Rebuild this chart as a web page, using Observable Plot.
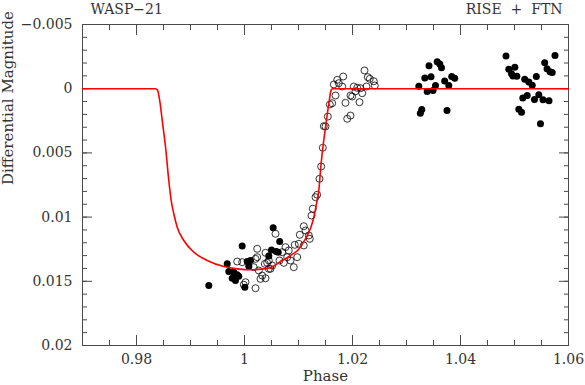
<!DOCTYPE html>
<html>
<head>
<meta charset="utf-8">
<script src="https://cdn.jsdelivr.net/npm/d3@7"></script>
<script src="https://cdn.jsdelivr.net/npm/@observablehq/plot@0.6"></script>
<style>
  html, body { margin: 0; padding: 0; background: #fff; }
</style>
</head>
<body>
<div id="chart"></div>
<script>
// ---- Data ----
const titleLeft = ["WASP\u221221"];
const titleRight = ["RISE\u00a0\u00a0+\u00a0\u00a0FTN"];
const xLabel = ["Phase"];
const yLabel = ["Differential Magnitude"];

// Filled circles (FTN)
const ftnPhase = [1.03228,1.03339,1.03417,1.03454,1.03383,1.03491,1.03537,1.03569,1.03648,1.03617,1.03707,1.03783,1.03837,1.03893,1.03283,1.03256,1.03750,
  1.04843,1.04894,1.04944,1.05006,1.04972,1.05043,1.05189,1.05265,1.05328,1.05404,1.05154,1.05235,1.05080,1.05130,1.05370,1.05450,1.05528,1.05639,1.05481,1.05559,1.05602,1.05657,1.05698,1.05750,
  0.99339,0.99957,0.99680,0.99709,0.99802,0.99865,0.99772,0.99833,0.99894,1.00050,1.00080,1.00006,1.00111,1.00531,1.00652,1.00500,1.00587,1.00450,1.00624];
const ftnMag = [-0.00020,-0.00083,-0.00179,-0.00093,0.00022,0.00014,-0.00025,-0.00210,-0.00163,-0.00192,-0.00060,-0.00025,-0.00095,-0.00082,0.00162,0.00191,0.00170,
  -0.00255,-0.00152,-0.00116,-0.00167,-0.00099,-0.00097,-0.00073,-0.00052,-0.00027,-0.00095,0.00072,0.00053,0.00160,0.00183,0.00084,0.00048,0.00086,0.00094,0.00273,-0.00202,-0.00155,-0.00132,-0.00126,-0.00259,
  0.01533,0.01225,0.01364,0.01424,0.01429,0.01449,0.01476,0.01494,0.01460,0.01346,0.01382,0.01546,0.01338,0.01083,0.01190,0.01256,0.01268,0.01303,0.01273];

// Open circles (RISE)
const risePhase = [1.00235,1.00389,0.99865,0.99957,1.00204,1.00172,1.00265,1.00328,1.00296,1.00389,1.00019,0.99987,1.00204,1.00420,1.00481,
  1.01346,1.01315,1.01265,1.01241,1.01098,1.01130,1.01024,1.01191,1.01209,1.01006,1.01098,1.00931,1.00759,1.00820,1.00698,1.00791,1.00852,1.00976,1.00913,
  1.00235,1.00376,1.00513,1.00648,1.00450,1.00728,1.00574,1.00450,
  1.02222,1.02283,1.02320,1.02394,1.02413,1.02259,1.02148,1.02087,1.02024,1.02056,1.02180,1.02130,1.01963,1.01994,1.01870,1.01963,1.01902,1.01828,1.01717,1.01746,1.01654,1.01809,1.01685,1.01624,1.01580,1.01543,1.01500,1.01469,1.01450,1.01420,1.01389];
const riseMag = [0.01247,0.01278,0.01346,0.01351,0.01325,0.01390,0.01416,0.01455,0.01481,0.01476,0.01507,0.01527,0.01554,0.01356,0.01403,
  0.00826,0.00845,0.00935,0.00988,0.01071,0.01104,0.01138,0.01143,0.01169,0.01208,0.01221,0.01216,0.01234,0.01260,0.01273,0.01312,0.01338,0.01312,0.01390,
  0.01312,0.01364,0.01377,0.01338,0.01338,0.01356,0.01130,0.01403,
  -0.00142,-0.00090,-0.00077,-0.00058,-0.00025,-0.00017,-0.00004,-0.00007,-0.00017,0.00020,0.00035,0.00105,0.00053,0.00061,0.00110,0.00209,0.00234,-0.00095,-0.00069,-0.00043,-0.00033,-0.00017,0.00053,0.00113,0.00123,0.00217,0.00294,0.00292,0.00460,0.00606,0.00702];

// Model light curve (red)
const modelPhase = [0.97,0.98352,0.98389,0.98435,0.98481,0.98537,0.98598,0.98643,0.98691,0.98754,0.98876,0.99061,0.99309,0.99617,0.99865,1.00111,1.00357,1.00481,1.00667,1.00852,1.01,1.01111,1.01222,1.01287,1.01337,1.0138,1.01407,1.015,1.01561,1.01606,1.0163,1.06];
const modelMag = [0,0,0.0001,0.00107,0.00263,0.0045,0.00715,0.00871,0.00974,0.01079,0.01182,0.01273,0.01338,0.01385,0.01403,0.0141,0.01403,0.01395,0.01346,0.01299,0.01252,0.01182,0.01089,0.00995,0.00886,0.00777,0.00637,0.003,0.00118,0.0001,0,0];

// Axis ticks
const xMajor = [0.98, 1.00, 1.02, 1.04, 1.06];
const xMinor = d3.range(0, 19).map(i => +(0.97 + i * 0.005).toFixed(3));
const yMajor = [-0.005, 0, 0.005, 0.01, 0.015, 0.02];
const yMinor = d3.range(0, 26).map(i => +(-0.005 + i * 0.001).toFixed(3));

// ---- Build tables ----
const ftn = ftnPhase.map((p, i) => ({phase: p, mag: ftnMag[i]}));
const rise = risePhase.map((p, i) => ({phase: p, mag: riseMag[i]}));
const model = modelPhase.map((p, i) => ({phase: p, mag: modelMag[i]}));

const axisColor = "#4a4a4a";
const blank = () => "";
const fmt = d3.format("~g");

const chart = Plot.plot({
  width: 585,
  height: 385,
  marginLeft: 82,
  marginRight: 17,
  marginTop: 24,
  marginBottom: 40,
  style: {fontFamily: "'DejaVu Serif', serif", fontSize: "14px", color: "#333", background: "#fff"},
  x: {domain: [0.97, 1.06], label: null},
  y: {domain: [-0.005, 0.02], reverse: true, label: null},
  marks: [
    // tick marks (inside, on all four sides)
    Plot.axisX(xMajor, {anchor: "bottom", tickSize: -10, tickFormat: blank, label: null, stroke: axisColor}),
    Plot.axisX(xMinor, {anchor: "bottom", tickSize: -5, tickFormat: blank, label: null, stroke: axisColor}),
    Plot.axisX(xMajor, {anchor: "top", tickSize: -10, tickFormat: blank, label: null, stroke: axisColor}),
    Plot.axisX(xMinor, {anchor: "top", tickSize: -5, tickFormat: blank, label: null, stroke: axisColor}),
    Plot.axisY(yMajor, {anchor: "left", tickSize: -10, tickFormat: blank, label: null, stroke: axisColor}),
    Plot.axisY(yMinor, {anchor: "left", tickSize: -5, tickFormat: blank, label: null, stroke: axisColor}),
    Plot.axisY(yMajor, {anchor: "right", tickSize: -10, tickFormat: blank, label: null, stroke: axisColor}),
    Plot.axisY(yMinor, {anchor: "right", tickSize: -5, tickFormat: blank, label: null, stroke: axisColor}),
    // tick labels
    Plot.axisX(xMajor, {anchor: "bottom", tickSize: 0, tickPadding: 9, label: null, tickFormat: fmt}),
    Plot.axisY(yMajor, {anchor: "left", tickSize: 0, tickPadding: 10, label: null, tickFormat: fmt}),
    Plot.frame({stroke: axisColor}),
    // data
    Plot.dot(rise, {x: "phase", y: "mag", r: 3.5, stroke: "#000", strokeWidth: 0.8, fill: "none"}),
    Plot.dot(ftn, {x: "phase", y: "mag", r: 3.5, fill: "#000", stroke: "none"}),
    Plot.line(model, {x: "phase", y: "mag", stroke: "#ff0000", strokeWidth: 1.6, curve: "monotone-x"}),
    // texts
    Plot.text(titleLeft, {frameAnchor: "top-left", text: d => d, dx: 8, dy: -11, lineAnchor: "bottom", textAnchor: "start", fill: "#333"}),
    Plot.text(titleRight, {frameAnchor: "top-right", text: d => d, dx: -6, dy: -11, lineAnchor: "bottom", textAnchor: "end", fill: "#333"}),
    Plot.text(xLabel, {frameAnchor: "bottom", text: d => d, dy: 35, lineAnchor: "bottom", fontSize: 15, fill: "#333"}),
    Plot.text(yLabel, {frameAnchor: "left", text: d => d, dx: -74, rotate: -90, fontSize: 15, fill: "#333"})
  ]
});
document.getElementById("chart").appendChild(chart);
</script>
</body>
</html>
